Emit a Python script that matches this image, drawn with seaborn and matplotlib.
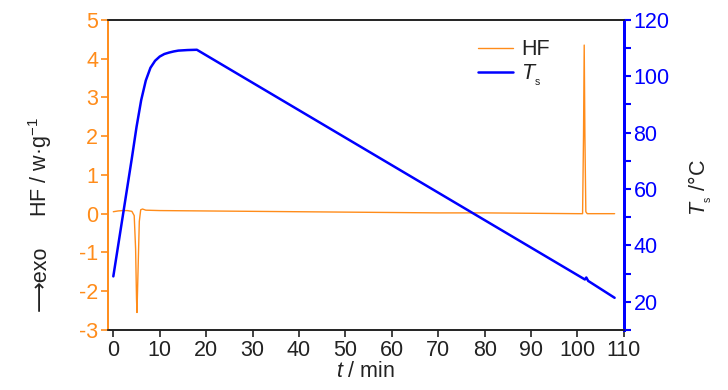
import pandas as pd
import matplotlib.pyplot as plt
import seaborn as sns
from matplotlib.ticker import MultipleLocator

# HF curve (time in min, heat flow in W/g)
hf_t = [0, 1, 2, 3, 4, 4.5, 4.8, 5.0, 5.1, 5.3, 5.6, 5.9, 6.3, 7, 10, 20, 30, 40, 50,
        60, 70, 80, 90, 100, 101.1, 101.3, 101.45, 101.6, 101.8, 102.1, 105, 108]
hf_v = [0.05, 0.07, 0.08, 0.08, 0.06, -0.05, -0.9, -2.2, -2.55, -1.6, -0.2, 0.1, 0.12, 0.09,
        0.08, 0.07, 0.06, 0.05, 0.04, 0.03, 0.02, 0.02, 0.01, 0.0, 0.0,
        2.0, 4.35, 2.0, 0.05, 0.0, 0.0, 0.0]

# sample temperature (time in min, T in °C)
ts_t = [0, 1, 2, 3, 4, 5, 6, 7, 8, 9, 10, 11, 12, 13, 14, 16, 18, 101.6, 101.9, 102.3, 108]
ts_v = [29, 39.5, 50, 60.5, 71, 82, 91.5, 98.5, 103, 105.5, 107, 107.9, 108.4, 108.8, 109.1,
        109.3, 109.4, 27.9, 28.6, 27.4, 21.4]

hf = pd.DataFrame({'t': hf_t, 'HF': hf_v})
ts = pd.DataFrame({'t': ts_t, 'Ts': ts_v})

orange = '#FF8C1A'
blue = '#0000FF'
ink = '#222222'

sns.set_style('white')
plt.rcParams['font.family'] = ['Liberation Sans', 'DejaVu Sans']
plt.rcParams['axes.unicode_minus'] = False
plt.rcParams['mathtext.fontset'] = 'custom'
plt.rcParams['mathtext.it'] = 'Liberation Sans:italic'
plt.rcParams['mathtext.rm'] = 'Liberation Sans'

fig = plt.figure(figsize=(7.28, 3.9), dpi=100)
ax = fig.add_axes([0.148, 0.154, 0.709, 0.795])
ax2 = ax.twinx()

sns.lineplot(data=hf, x='t', y='HF', ax=ax, color=orange, lw=1.0, label='HF', legend=False)
sns.lineplot(data=ts, x='t', y='Ts', ax=ax2, color=blue, lw=1.8, label='$T_{_\\mathrm{s}}$', legend=False)

ax.set_xlim(-1.2, 110)
ax.set_ylim(-3, 5)
ax2.set_ylim(10, 120)
ax.xaxis.set_major_locator(MultipleLocator(10))
ax.yaxis.set_major_locator(MultipleLocator(1))
ax2.yaxis.set_major_locator(MultipleLocator(20))
ax2.yaxis.set_minor_locator(MultipleLocator(10))

fs = 15.5
ax.tick_params(axis='x', direction='out', length=5, width=1.2, colors=ink, labelsize=fs, bottom=True, pad=2)
ax.tick_params(axis='y', direction='out', length=5, width=1.2, colors=orange, labelsize=fs, left=True, pad=2)
ax2.tick_params(axis='y', which='both', direction='out', length=5, width=1.5, colors=blue, labelsize=fs, right=True, pad=2)

for a in (ax, ax2):
    a.spines['top'].set_color(ink)
    a.spines['bottom'].set_color(ink)
    a.spines['left'].set_color(orange)
    a.spines['right'].set_color(blue)
    a.spines['left'].set_linewidth(1.2)
    a.spines['right'].set_linewidth(2)
    a.spines['top'].set_linewidth(1.2)
    a.spines['bottom'].set_linewidth(1.2)

ax.set_xlabel('$t$ / min', fontsize=fs, color=ink, labelpad=0)
ax.set_ylabel('')
ax2.set_ylabel('')

fig.text(0.055, 0.572, 'HF / w·g$^{-1}$', rotation=90, ha='center', va='center', fontsize=fs, color=ink)
fig.text(0.055, 0.287, '⟶exo', rotation=90, ha='center', va='center', fontsize=fs, color=ink)
fig.text(0.962, 0.52, '$T_{_\\mathrm{s}}$ /°C', rotation=90, ha='center', va='center', fontsize=fs, color=ink)

h1, l1 = ax.get_legend_handles_labels()
h2, l2 = ax2.get_legend_handles_labels()
leg = ax2.legend(h1 + h2, l1 + l2, loc='upper left', bbox_to_anchor=(0.68, 1.0), frameon=False,
                 fontsize=fs, handlelength=1.6, handletextpad=0.4, labelspacing=0.1)
for t in leg.get_texts():
    t.set_color(ink)

fig.savefig('out.png', dpi=100)
